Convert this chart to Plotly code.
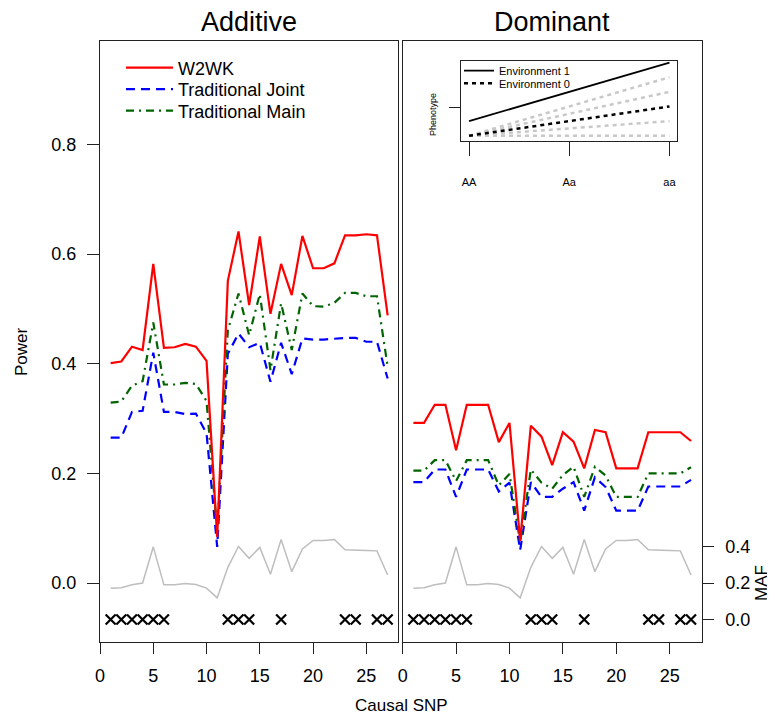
import plotly.graph_objects as go

# ---------------- data ----------------
snp = list(range(1, 28))

add_w2wk = [0.401, 0.404, 0.431, 0.425, 0.582, 0.429, 0.430, 0.436, 0.431, 0.405,
            0.084, 0.551, 0.641, 0.507, 0.632, 0.491, 0.582, 0.525, 0.633, 0.574,
            0.574, 0.583, 0.634, 0.634, 0.636, 0.634, 0.488]
add_joint = [0.265, 0.265, 0.312, 0.314, 0.420, 0.312, 0.312, 0.308, 0.309, 0.273,
             0.066, 0.418, 0.455, 0.430, 0.438, 0.367, 0.438, 0.381, 0.446, 0.444,
             0.444, 0.446, 0.447, 0.447, 0.440, 0.440, 0.373]
add_main = [0.329, 0.331, 0.360, 0.368, 0.475, 0.362, 0.362, 0.365, 0.363, 0.332,
            0.095, 0.461, 0.528, 0.452, 0.527, 0.388, 0.510, 0.425, 0.528, 0.505,
            0.504, 0.511, 0.529, 0.529, 0.523, 0.523, 0.395]

dom_w2wk = [0.292, 0.292, 0.325, 0.325, 0.242, 0.325, 0.325, 0.325, 0.257, 0.292,
            0.077, 0.287, 0.267, 0.215, 0.275, 0.258, 0.209, 0.279, 0.275, 0.209,
            0.209, 0.209, 0.275, 0.275, 0.275, 0.275, 0.259]
dom_joint = [0.184, 0.184, 0.207, 0.207, 0.157, 0.207, 0.207, 0.207, 0.167, 0.183,
             0.060, 0.184, 0.157, 0.157, 0.172, 0.184, 0.132, 0.193, 0.175, 0.132,
             0.132, 0.132, 0.176, 0.176, 0.176, 0.176, 0.188]
dom_main = [0.205, 0.205, 0.224, 0.224, 0.186, 0.224, 0.224, 0.224, 0.178, 0.199,
            0.074, 0.207, 0.183, 0.172, 0.197, 0.212, 0.157, 0.212, 0.196, 0.157,
            0.157, 0.157, 0.200, 0.200, 0.200, 0.200, 0.211]

maf = [0.172, 0.174, 0.190, 0.200, 0.398, 0.190, 0.190, 0.197, 0.192, 0.172,
       0.119, 0.286, 0.400, 0.335, 0.395, 0.248, 0.438, 0.262, 0.386, 0.433,
       0.433, 0.438, 0.382, 0.382, 0.378, 0.376, 0.244]

marked_snp = [1, 2, 3, 4, 5, 6, 12, 13, 14, 17, 23, 24, 26, 27]
marked_maf = [0.0] * len(marked_snp)

power_ticks = [0.0, 0.2, 0.4, 0.6, 0.8]
maf_ticks = [0.0, 0.2, 0.4]
snp_ticks = [0, 5, 10, 15, 20, 25]

# inset (genotype effect illustration)
genotypes = ["AA", "Aa", "aa"]
geno_x = [0, 1, 2]
env1 = [1.0, 3.0, 5.0]
env0 = [0.0, 1.0, 2.0]
gray_fan = [[0.0, 0.0, 0.0], [0.0, 0.5, 1.0], [0.0, 1.5, 3.0], [0.0, 2.0, 4.0]]

# ---------------- layout helpers ----------------
# the page body has an 8px margin; figure placed at (8, 8) in the window
OFF = 8
W, H = 775 - OFF, 722 - OFF
def px(x):
    return (x - OFF) / W
def py(y):
    return 1 - (y - OFF) / H

power_range = [-0.107, 0.989]
maf_range = [3 * power_range[0] + 0.2, 3 * power_range[1] + 0.2]

FONT = "Liberation Sans, Arial, Helvetica, sans-serif"
RED, BLUE, GREEN, GRAY = "#FF0000", "#0000FF", "#006400", "#BEBEBE"

fig = go.Figure()

panels = [("x", "y", "y3", add_w2wk, add_joint, add_main, True),
          ("x2", "y2", "y4", dom_w2wk, dom_joint, dom_main, False)]
for xa, ya, ymaf, w2, jt, mn, show in panels:
    fig.add_trace(go.Scatter(x=snp, y=maf, xaxis=xa, yaxis=ymaf, mode="lines",
                             line=dict(color=GRAY, width=1.5), showlegend=False,
                             hoverinfo="skip"))
    fig.add_trace(go.Scatter(x=marked_snp, y=marked_maf, xaxis=xa, yaxis=ymaf,
                             mode="markers", showlegend=False,
                             marker=dict(symbol="x-thin", size=10,
                                         line=dict(color="black", width=2.2))))
    fig.add_trace(go.Scatter(x=snp, y=jt, xaxis=xa, yaxis=ya, mode="lines",
                             name="Traditional Joint", legend="legend3",
                             showlegend=show,
                             line=dict(color=BLUE, width=2.2, dash="9px,6px")))
    fig.add_trace(go.Scatter(x=snp, y=mn, xaxis=xa, yaxis=ya, mode="lines",
                             name="Traditional Main", legend="legend4",
                             showlegend=show,
                             line=dict(color=GREEN, width=2.2,
                                       dash="8px,5px,2px,5px")))
    fig.add_trace(go.Scatter(x=snp, y=w2, xaxis=xa, yaxis=ya, mode="lines",
                             name="W2WK", legend="legend",
                             showlegend=show,
                             line=dict(color=RED, width=2.2)))

# inset
for g in gray_fan:
    fig.add_trace(go.Scatter(x=geno_x, y=g, xaxis="x3", yaxis="y5", mode="lines",
                             line=dict(color="#C8C8C8", width=2.5, dash="4px,4px"),
                             showlegend=False, hoverinfo="skip"))
fig.add_trace(go.Scatter(x=geno_x, y=env1, xaxis="x3", yaxis="y5", mode="lines",
                         name="Environment 1", legend="legend2",
                         line=dict(color="black", width=1.8)))
fig.add_trace(go.Scatter(x=geno_x, y=env0, xaxis="x3", yaxis="y5", mode="lines",
                         name="Environment 0", legend="legend5",
                         line=dict(color="black", width=2.5, dash="4px,4px")))

ydom = [py(641.7), py(40.7)]
box = dict(showline=True, linecolor="#222222", linewidth=1.2, mirror=True,
           showgrid=False, zeroline=False, automargin=False)
tickfont = dict(family=FONT, size=18, color="black")

xcommon = dict(range=[0, 28], tickvals=snp_ticks, ticks="outside", ticklen=11,
               tickcolor="#222222", tickfont=tickfont, ticklabelstandoff=7, **box)

def main_legend(ycenter):
    return dict(x=px(121), y=py(ycenter), xanchor="left", yanchor="middle",
                bgcolor="rgba(0,0,0,0)", font=dict(family=FONT, size=18),
                itemwidth=47, tracegroupgap=0)

def inset_legend(ycenter):
    return dict(x=px(459), y=py(ycenter), xanchor="left", yanchor="middle",
                bgcolor="rgba(0,0,0,0)", font=dict(family=FONT, size=11),
                itemwidth=30, tracegroupgap=0)

def note(text, x, y, size, angle=0):
    return dict(text=text, x=px(x), y=py(y), xref="paper", yref="paper",
                xanchor="center", yanchor="middle", showarrow=False,
                textangle=angle, font=dict(family=FONT, size=size, color="black"))

fig.update_layout(
    width=W, height=H, margin=dict(l=0, r=0, t=0, b=0, autoexpand=False),
    paper_bgcolor="white", plot_bgcolor="white",
    font=dict(family=FONT, color="black"),
    xaxis=dict(domain=[px(100), px(398.3)], anchor="y", **xcommon),
    xaxis2=dict(domain=[px(402.7), px(701.7)], anchor="y2", **xcommon),
    yaxis=dict(domain=ydom, anchor="x", range=power_range, tickvals=power_ticks,
               ticktext=["0.0", "0.2", "0.4", "0.6", "0.8"], ticks="outside",
               ticklen=12, tickcolor="#222222", tickfont=tickfont,
               ticklabelstandoff=7, **box),
    yaxis2=dict(domain=ydom, anchor="x2", range=power_range, showticklabels=False,
                ticks="", **box),
    yaxis3=dict(overlaying="y", anchor="x", range=maf_range, visible=False,
                showgrid=False, zeroline=False, automargin=False),
    yaxis4=dict(overlaying="y2", anchor="x2", side="right", range=maf_range,
                tickvals=maf_ticks, ticktext=["0.0", "0.2", "0.4"],
                ticks="outside", ticklen=11, tickcolor="#222222",
                tickfont=tickfont, ticklabelstandoff=8, showline=False,
                showgrid=False, zeroline=False, automargin=False),
    xaxis3=dict(domain=[px(460.7), px(677.3)], anchor="y5", range=[-0.083, 2.078],
                tickvals=geno_x, ticktext=genotypes, ticks="outside", ticklen=14,
                tickcolor="#222222", tickfont=dict(family=FONT, size=11),
                ticklabelstandoff=17, **box),
    yaxis5=dict(domain=[py(140.7), py(60.7)], anchor="x3", range=[-0.34, 5.13],
                tickvals=[1.95], ticktext=[""], ticks="outside", ticklen=11,
                tickcolor="#222222", **box),
    legend=main_legend(68),
    legend3=main_legend(89.5),
    legend4=main_legend(111),
    legend2=inset_legend(70.7),
    legend5=inset_legend(83.3),
    annotations=[
        note("Additive", 249, 22, 27),
        note("Dominant", 552, 22, 27),
        note("Power", 21, 352, 17, -90),
        note("Causal SNP", 401, 705, 17),
        note("MAF", 761, 583, 17, -90),
        note("Phenotype", 433, 114, 9, -90),
    ],
)

fig.write_html("out.html")
